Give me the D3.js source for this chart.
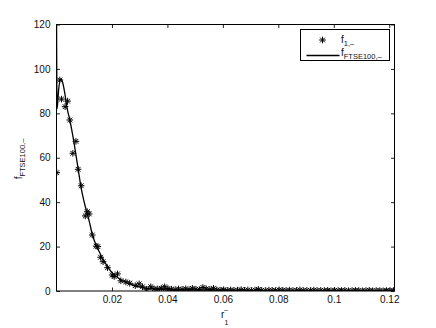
<!DOCTYPE html>
<html>
<head>
<meta charset="utf-8">
<script src="https://cdn.jsdelivr.net/npm/d3@7"></script>
<style>
  body { margin: 0; background: #fff; }
  svg text { font-family: "Liberation Sans", Arial, Helvetica, sans-serif; fill: #111; }
</style>
</head>
<body>
<svg id="chart" width="436" height="328"></svg>
<script>
// empirical points f_{1,-} (stars)
const starX = [0.0001, 0.0012, 0.0018, 0.0031, 0.0040, 0.0048, 0.0059, 0.0070, 0.0078, 0.0089,
    0.0104, 0.0111, 0.0118, 0.0129, 0.0143, 0.0149, 0.0159, 0.0168, 0.0184, 0.0201,
    0.0208, 0.0220, 0.0232, 0.0250, 0.0264, 0.0284, 0.0298, 0.0310, 0.0325, 0.0340,
    0.0352, 0.0365, 0.0378, 0.0390, 0.0402, 0.0415, 0.0428, 0.0440, 0.0453, 0.0466,
    0.0478, 0.0490, 0.0503, 0.0516, 0.0528, 0.0540, 0.0553, 0.0566, 0.0578, 0.0590,
    0.0603, 0.0616, 0.0628, 0.0640, 0.0653, 0.0666, 0.0678, 0.0690, 0.0703, 0.0716,
    0.0728, 0.0740, 0.0753, 0.0766, 0.0778, 0.0790, 0.0803, 0.0816, 0.0828, 0.0840,
    0.0853, 0.0866, 0.0878, 0.0890, 0.0903, 0.0916, 0.0928, 0.0940, 0.0953, 0.0966,
    0.0978, 0.0990, 0.1003, 0.1016, 0.1028, 0.1040, 0.1053, 0.1066, 0.1078, 0.1090,
    0.1103, 0.1116, 0.1128, 0.1140, 0.1153, 0.1166, 0.1178, 0.1190, 0.1203, 0.1215];
const starY = [53.3, 95.0, 86.4, 83.0, 85.5, 77.0, 62.0, 67.4, 54.8, 47.4,
    33.8, 35.7, 34.7, 25.2, 20.2, 20.0, 15.2, 13.2, 10.5, 7.2,
    6.5, 7.7, 4.6, 4.1, 3.5, 2.4, 3.2, 1.9, 0.8, 1.9,
    1.0, 0.9, 1.2, 1.9, 1.1, 0.8, 0.6, 0.9, 0.7, 1.0,
    0.6, 1.2, 0.8, 0.6, 1.6, 1.0, 0.7, 1.2, 0.5, 0.4,
    0.6, 0.3, 0.5, 0.3, 0.4, 0.6, 0.3, 0.5, 0.2, 0.4,
    0.7, 0.3, 0.2, 0.4, 0.3, 0.2, 0.5, 0.3, 0.2, 0.4,
    0.2, 0.3, 0.5, 0.2, 0.3, 0.2, 0.4, 0.2, 0.3, 0.2,
    0.3, 0.1, 0.3, 0.2, 0.2, 0.3, 0.1, 0.2, 0.3, 0.2,
    0.1, 0.2, 0.3, 0.1, 0.2, 0.2, 0.1, 0.2, 0.1, 0.2];

// fitted density f_{FTSE100,-} (solid line)
const lineX = [0.0000, 0.0002, 0.0008, 0.0015, 0.0022, 0.0030, 0.0038, 0.0048, 0.0058, 0.0068,
    0.0078, 0.0088, 0.0098, 0.0108, 0.0118, 0.0128, 0.0140, 0.0150, 0.0165, 0.0180,
    0.0200, 0.0217, 0.0240, 0.0265, 0.0290, 0.0325, 0.0360, 0.0400, 0.0450, 0.0500,
    0.0550, 0.0600, 0.0700, 0.0800, 0.0900, 0.1000, 0.1100, 0.1220];
const lineY = [130, 82, 91, 95.5, 94, 89, 82.5, 77, 70.5, 63,
    55, 47, 41, 36, 31.5, 26, 21.5, 18.8, 14.8, 11.8,
    8.3, 6.4, 4.5, 3.2, 2.1, 1.2, 0.8, 0.5, 0.4, 0.4,
    0.35, 0.25, 0.2, 0.15, 0.12, 0.1, 0.1, 0.08];

const xTicks = [0.02, 0.04, 0.06, 0.08, 0.1, 0.12];
const yTicks = [0, 20, 40, 60, 80, 100, 120];

const margin = {left: 56.5, top: 24.5, right: 436 - 394.5, bottom: 328 - 291};
const W = 436, H = 328;

const svg = d3.select("#chart");

const x = d3.scaleLinear().domain([0, 0.1219]).range([margin.left, W - margin.right]);
const y = d3.scaleLinear().domain([0, 120]).range([H - margin.bottom, margin.top]);

svg.append("defs").append("clipPath").attr("id", "plotClip")
    .append("rect")
    .attr("x", x(0)).attr("y", y(120))
    .attr("width", x(0.1219) - x(0)).attr("height", y(0) - y(120));

// axes (MATLAB-like box, ticks inward, no domain paths)
const tickLen = 3.5;
const fmt = d => String(d);

const gBottom = svg.append("g").attr("transform", `translate(0,${y(0)})`)
    .call(d3.axisBottom(x).tickValues(xTicks).tickSizeInner(-tickLen).tickSizeOuter(0).tickPadding(5).tickFormat(fmt));
const gTop = svg.append("g").attr("transform", `translate(0,${y(120)})`)
    .call(d3.axisTop(x).tickValues(xTicks).tickSizeInner(-tickLen).tickSizeOuter(0).tickFormat(""));
const gLeft = svg.append("g").attr("transform", `translate(${x(0)},0)`)
    .call(d3.axisLeft(y).tickValues(yTicks).tickSizeInner(-tickLen).tickSizeOuter(0).tickPadding(6).tickFormat(fmt));
const gRight = svg.append("g").attr("transform", `translate(${x(0.1219)},0)`)
    .call(d3.axisRight(y).tickValues(yTicks).tickSizeInner(-tickLen).tickSizeOuter(0).tickFormat(""));

[gBottom, gTop, gLeft, gRight].forEach(g => {
    g.select(".domain").remove();
    g.selectAll("line").attr("stroke", "#222").attr("stroke-width", 1);
    g.selectAll("text").attr("font-size", 10).attr("fill", "#111")
        .style("font-family", "'Liberation Sans', Arial, sans-serif");
});

// box
svg.append("rect")
    .attr("x", x(0)).attr("y", y(120))
    .attr("width", x(0.1219) - x(0)).attr("height", y(0) - y(120))
    .attr("fill", "none").attr("stroke", "#000").attr("stroke-width", 1);

// MATLAB '*' marker: plus + times
const starShape = {
    draw(ctx, size) {
        const r = 3.3, d = 2.4;
        ctx.moveTo(-r, 0); ctx.lineTo(r, 0);
        ctx.moveTo(0, -r); ctx.lineTo(0, r);
        ctx.moveTo(-d, -d); ctx.lineTo(d, d);
        ctx.moveTo(-d, d); ctx.lineTo(d, -d);
    }
};
const star = d3.symbol().type(starShape);

const plot = svg.append("g").attr("clip-path", "url(#plotClip)");

const stars = starX.map((v, i) => ({x: v, y: starY[i]}));
plot.selectAll("path.star")
    .data(stars)
    .join("path")
    .attr("class", "star")
    .attr("d", star)
    .attr("transform", d => `translate(${x(d.x)},${y(d.y)})`)
    .attr("fill", "none")
    .attr("stroke", "#000")
    .attr("stroke-width", 1);

const curve = lineX.map((v, i) => ({x: v, y: lineY[i]}));
const lineGen = d3.line().x(d => x(d.x)).y(d => y(d.y)).curve(d3.curveMonotoneX);
plot.append("path")
    .datum(curve)
    .attr("d", lineGen)
    .attr("fill", "none")
    .attr("stroke", "#000")
    .attr("stroke-width", 1.3);

// legend
const lg = svg.append("g");
lg.append("rect")
    .attr("x", 300.5).attr("y", 29.5).attr("width", 89).attr("height", 31)
    .attr("fill", "#fff").attr("stroke", "#000").attr("stroke-width", 1);
lg.append("path").attr("d", star()).attr("transform", "translate(322.5,40)")
    .attr("fill", "none").attr("stroke", "#000").attr("stroke-width", 1);
lg.append("line").attr("x1", 306.5).attr("x2", 339.5).attr("y1", 55.5).attr("y2", 55.5)
    .attr("stroke", "#000").attr("stroke-width", 1.3);

function fSub(g, px, py, sub, anchor) {
    const t = g.append("text").attr("x", px).attr("y", py).attr("font-size", 10)
        .attr("text-anchor", anchor || "start");
    t.append("tspan").text("f");
    t.append("tspan").attr("dy", 3).attr("font-size", 7.5).text(sub);
    return t;
}
fSub(lg, 341, 43, "1,\u2013");
fSub(lg, 341, 55.5, "FTSE100,\u2013");

// y label
const yl = svg.append("g").attr("transform", "translate(22,159) rotate(-90)");
fSub(yl, 0, 0, "FTSE100,\u2013", "middle");

// x label r_1^-
svg.append("text").attr("x", 221).attr("y", 318).attr("font-size", 10).text("r");
svg.append("text").attr("x", 224).attr("y", 311.5).attr("font-size", 7).text("\u2013");
svg.append("text").attr("x", 224.5).attr("y", 324.5).attr("font-size", 7).text("1");
</script>
</body>
</html>
